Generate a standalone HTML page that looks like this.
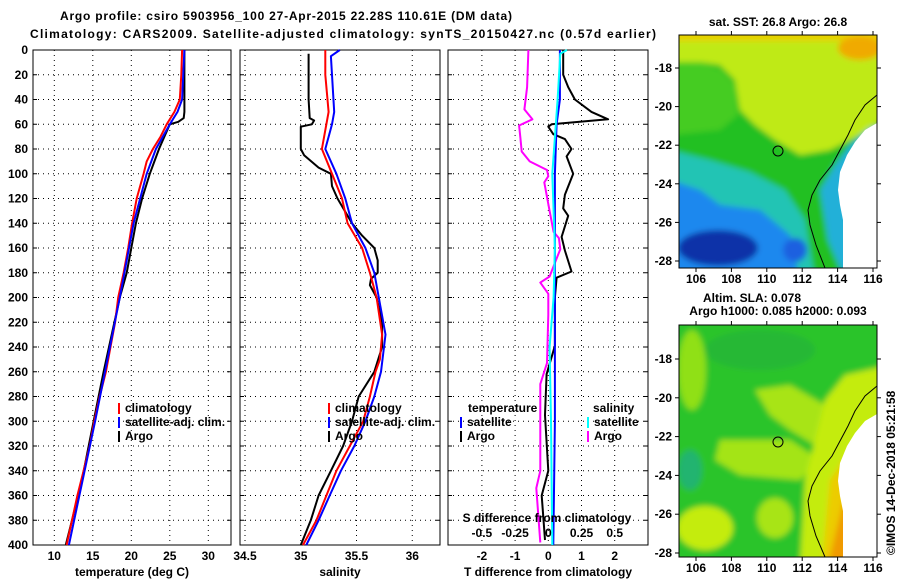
<!DOCTYPE html>
<html><head><meta charset="utf-8"><style>
body{margin:0;background:#fff}
svg{display:block}
text{font-family:"Liberation Sans",sans-serif;font-weight:bold;font-size:12px;fill:#000}
</style></head><body>
<svg id="c" width="900" height="580" xmlns="http://www.w3.org/2000/svg">
<defs>
<filter id="bl" x="-10%" y="-10%" width="120%" height="120%"><feGaussianBlur stdDeviation="3"/></filter>
<clipPath id="cm1"><rect x="679" y="35" width="198" height="233"/></clipPath>
<clipPath id="cm2"><rect x="679" y="325" width="198" height="232"/></clipPath>
</defs>
<text x="286" y="20" text-anchor="middle" font-size="13" textLength="452">Argo profile: csiro 5903956_100 27-Apr-2015 22.28S 110.61E (DM data)</text>
<text x="343" y="38" text-anchor="middle" font-size="13" textLength="626">Climatology: CARS2009. Satellite-adjusted climatology: synTS_20150427.nc (0.57d earlier)</text>

<g>
<text x="778" y="26" text-anchor="middle">sat. SST: 26.8 Argo: 26.8</text>
<g clip-path="url(#cm1)"><g filter="url(#bl)">
<rect x="670" y="25" width="220" height="255" fill="#22c024"/>
<polygon points="670,25 890,25 890,115 860,135 830,150 800,155 775,140 755,125 740,110 735,80 720,65 700,62 670,62" fill="#bfea12"/>
<polygon points="670,62 700,62 722,70 735,85 738,115 720,130 670,135" fill="#44cc20"/>
<rect x="670" y="25" width="220" height="16" fill="#e8d000"/>
<ellipse cx="860" cy="48" rx="22" ry="12" fill="#f0aa00"/>
<polygon points="670,150 710,160 750,172 785,190 805,220 815,280 670,280" fill="#22c4b4"/>
<polygon points="670,180 700,190 720,205 760,210 790,235 800,280 670,280" fill="#1a88ee"/>
<ellipse cx="718" cy="248" rx="40" ry="18" fill="#0c30a8"/>
<ellipse cx="795" cy="250" rx="12" ry="12" fill="#1a60e0"/>
<polygon points="820,190 835,165 850,145 870,128 890,125 890,280 845,280 828,240" fill="#20b0d8"/>
</g>
<polygon points="877,123 865,130 855,142 847,155 840,172 838,190 840,205 843,220 843,268 877,268" fill="#fff"/>
<polyline points="877,95 865,105 855,120 848,135 840,150 832,165 820,180 812,195 808,210 810,225 816,245 825,268" fill="none" stroke="#000" stroke-width="1"/>
<circle cx="778" cy="151" r="5" fill="none" stroke="#000"/>
</g>
<rect x="679" y="35" width="198" height="233" fill="none" stroke="#000"/>
</g>

<g>
<text x="752" y="302" text-anchor="middle">Altim. SLA: 0.078</text>
<text x="778" y="315" text-anchor="middle">Argo h1000: 0.085 h2000: 0.093</text>
<g clip-path="url(#cm2)"><g filter="url(#bl)">
<rect x="670" y="315" width="220" height="250" fill="#2cc42a"/>
<ellipse cx="692" cy="370" rx="14" ry="40" fill="#90e018"/>
<ellipse cx="760" cy="350" rx="55" ry="20" fill="#26b836"/>
<polygon points="755,390 790,385 825,405 835,430 815,445 790,430 770,415" fill="#a8e414"/>
<polygon points="720,440 790,440 820,460 800,480 740,475 715,460" fill="#a4e414"/>
<ellipse cx="690" cy="470" rx="12" ry="20" fill="#20b470"/>
<ellipse cx="705" cy="528" rx="28" ry="22" fill="#c4ec10"/>
<ellipse cx="775" cy="518" rx="18" ry="20" fill="#a8e414"/>
<polygon points="890,365 845,375 825,400 815,440 805,480 800,565 890,565" fill="#c4ec10"/>
<polygon points="890,430 850,450 830,480 822,565 890,565" fill="#eccc00"/>
<polygon points="845,495 828,565 872,565" fill="#f09a00"/>
</g>
<polygon points="877,414 865,421 855,433 847,446 840,463 838,481 840,496 843,511 843,557 877,557" fill="#fff"/>
<polyline points="877,386 865,396 855,411 848,426 840,441 832,456 820,471 812,486 808,501 810,516 816,536 825,557" fill="none" stroke="#000"/>
<circle cx="778" cy="442" r="5" fill="none" stroke="#000"/>
</g>
<rect x="679" y="325" width="198" height="232" fill="none" stroke="#000"/>
</g>
<text transform="translate(895,555) rotate(-90)" font-weight="normal">©IMOS 14-Dec-2018 05:21:58</text>
<g id="dyn"></g>
</svg>
<script>
// ---- data ----
const depthTicks=[0,20,40,60,80,100,120,140,160,180,200,220,240,260,280,300,320,340,360,380,400];
const tempTicks=[10,15,20,25,30];
const salTicks=[34.5,35,35.5,36];
const tdiffTicks=[-2,-1,0,1,2];
const sdiffTicks=[-0.5,-0.25,0,0.25,0.5];
const sdiffTickLabels=["-0.5","-0.25","0","0.25","0.5"];
const climTDepth=[0,20,40,50,60,70,80,90,100,120,140,160,180,200,220,240,260,280,300,320,340,360,380,400];
const climT=[26.6,26.5,26.3,25.6,24.6,23.8,22.8,22.0,21.6,20.7,20.1,19.6,19.0,18.3,17.9,17.3,16.7,15.9,15.2,14.6,13.8,13.0,12.3,11.6];
const satTDepth=[0,40,50,60,80,100,140,200,300,400];
const satT=[26.9,26.6,26.0,25.0,23.2,22.0,20.3,18.5,15.3,11.9];
const argoTDepth=[0,50,55,58,60,70,80,90,100,120,140,160,180,200,260,300,350,400];
const argoT=[26.9,26.9,26.8,26.1,25.0,24.3,23.6,23.0,22.4,21.4,20.6,20.0,19.4,18.5,16.4,15.1,13.5,11.5];
const climSDepth=[0,20,50,80,100,120,140,160,180,200,230,250,260,280,300,320,340,360,380,400];
const climS=[35.22,35.22,35.25,35.19,35.28,35.37,35.42,35.55,35.62,35.68,35.73,35.71,35.67,35.62,35.56,35.44,35.32,35.23,35.14,35.02];
const satSDepth=[0,5,20,50,60,80,100,120,140,160,180,200,230,260,280,300,320,340,360,380,400];
const satS=[35.35,35.27,35.28,35.3,35.28,35.22,35.32,35.40,35.46,35.58,35.66,35.7,35.76,35.72,35.66,35.58,35.48,35.36,35.26,35.16,35.05];
const argoSDepth=[3,20,40,55,57,60,62,70,80,85,95,100,110,120,140,150,160,170,180,185,190,200,220,240,260,280,300,320,340,360,380,400];
const argoS=[35.07,35.07,35.07,35.08,35.12,35.1,35.0,35.0,35.0,35.03,35.16,35.27,35.28,35.33,35.46,35.55,35.66,35.69,35.69,35.63,35.62,35.68,35.73,35.73,35.66,35.52,35.46,35.38,35.27,35.16,35.09,35.0];
const satTdDepth=[0,40,60,100,200,300,400];
const satTd=[0.35,0.35,0.25,0.2,0.2,0.2,0.15];
const argoTdDepth=[0,20,30,40,50,56,60,62,68,72,80,86,100,117,128,134,151,162,179,184,200,239,262,295,340,360,396];
const argoTd=[0.45,0.45,0.6,0.8,1.3,1.8,0.1,0.0,0.15,0.5,0.7,0.55,0.75,0.5,0.45,0.6,0.4,0.5,0.7,0.25,0.2,0.2,-0.05,-0.1,0.0,-0.2,-0.1];
const satSdDepth=[0,3,40,100,160,200,240,300,400];
const satSd=[0.14,0.09,0.07,0.03,0.05,0.04,0.01,0.02,0.03];
const argoSdDepth=[0,30,48,56,61,71,82,90,97,102,107,130,147,152,161,172,183,188,197,214,253,270,340,354,398];
const argoSd=[-0.15,-0.16,-0.18,-0.12,-0.22,-0.21,-0.2,-0.14,-0.01,0,-0.03,0.01,0.04,0.08,0.09,0.05,0.01,-0.06,0,0,-0.01,-0.06,-0.06,-0.09,-0.06];
const lonTicks=[106,108,110,112,114,116];
const latTicks=[-18,-20,-22,-24,-26,-28];

// ---- scales ----
const Y0=50,Y1=545;
const yD=d=>Y0+d*(Y1-Y0)/400;
const xT=t=>54.3+(t-10)*7.7;
const xS=s=>245+(s-34.5)*111.5;
const xTd=t=>548.3+t*33.2;
const xSd=s=>548.3+s*4*33.2;
const xLon=l=>696+(l-106)*17.7;
const yLat1=l=>68+(-18-l)*19.3;
const yLat2=l=>359+(-18-l)*19.4;

const NS='http://www.w3.org/2000/svg';
const g=document.getElementById('dyn');
function mk(tag,attrs,parent){const e=document.createElementNS(NS,tag);for(const k in attrs)e.setAttribute(k,attrs[k]);(parent||g).appendChild(e);return e;}
function txt(x,y,s,anchor,parent){const e=mk('text',{x:x,y:y,'text-anchor':anchor||'middle'},parent);e.textContent=s;return e;}

const panels=[
 {name:'temperature-panel',x0:33,x1:231,ticks:tempTicks,labels:tempTicks.map(String),fx:xT,title:'temperature (deg C)'},
 {name:'salinity-panel',x0:240,x1:440,ticks:salTicks,labels:salTicks.map(String),fx:xS,title:'salinity'},
 {name:'difference-panel',x0:448,x1:648,ticks:tdiffTicks,labels:tdiffTicks.map(String),fx:xTd,title:'T difference from climatology'}
];
panels.forEach((p,pi)=>{
 const pg=mk('g',{});
 
 
 depthTicks.forEach(d=>{
  if(d>0&&d<400){const l=mk('line',{x1:p.x0,x2:p.x1,y1:yD(d),y2:yD(d),stroke:'#000','stroke-dasharray':'1,4'},pg);
  
  }
  mk('line',{x1:p.x0,x2:p.x0+4,y1:yD(d),y2:yD(d),stroke:'#000'},pg);
  mk('line',{x1:p.x1-4,x2:p.x1,y1:yD(d),y2:yD(d),stroke:'#000'},pg);
 });
 p.ticks.forEach((t,i)=>{
  const x=p.fx(t);
  if(x>p.x0+1&&x<p.x1-1){const l=mk('line',{x1:x,x2:x,y1:Y0,y2:Y1,stroke:'#000','stroke-dasharray':'1,4'},pg);
  
  }
  const tl=txt(x,Y1+15,p.labels[i],'middle',pg);
  
  
 });
 const fr=mk('rect',{x:p.x0,y:Y0,width:p.x1-p.x0,height:Y1-Y0,fill:'none',stroke:'#000'},pg);
 
 
 const at=txt((p.x0+p.x1)/2,576,p.title,'middle',pg);
 
 
});
depthTicks.forEach(d=>{const t=txt(28,yD(d)+4,String(d),'end');
 
 });

function line(ds,vs,fx,col,name,w){
 const pts=ds.map((d,i)=>fx(vs[i]).toFixed(1)+','+yD(d).toFixed(1)).join(' ');
 const e=mk('polyline',{points:pts,fill:'none',stroke:col,'stroke-width':w||2,'stroke-linejoin':'round'});
 
 
}
line(argoTDepth,argoT,xT,'#000','argo-temperature-line');
line(climTDepth,climT,xT,'#f00','climatology-temperature-line');
line(satTDepth,satT,xT,'#00f','satellite-temperature-line');
line(argoSDepth,argoS,xS,'#000','argo-salinity-line');
line(climSDepth,climS,xS,'#f00','climatology-salinity-line');
line(satSDepth,satS,xS,'#00f','satellite-salinity-line');
line(argoTdDepth,argoTd,xTd,'#000','argo-t-diff-line');
line(argoSdDepth,argoSd,xSd,'#f0f','argo-s-diff-line');
line(satTdDepth,satTd,xTd,'#00f','satellite-t-diff-line');
line(satSdDepth,satSd,xSd,'#0ff','satellite-s-diff-line');

// S diff axis labels
const sdt=txt(547,522,'S difference from climatology');


sdiffTicks.forEach((s,i)=>{const t=txt(xSd(s),537,sdiffTickLabels[i]);
 
 });

// legends
function leg(x,y,col,label){
 const lg=mk('g',{});
 
 
 mk('rect',{x:x,y:y-9,width:2,height:11,fill:col},lg);
 txt(x+7,y,label,'start',lg);
}
leg(118,412,'#f00','climatology');leg(118,426,'#00f','satellite-adj. clim.');leg(118,440,'#000','Argo');
leg(328,412,'#f00','climatology');leg(328,426,'#00f','satellite-adj. clim.');leg(328,440,'#000','Argo');
const lt1=txt(468,412,'temperature','start');


leg(460,426,'#00f','satellite');leg(460,440,'#000','Argo');
const lt2=txt(593,412,'salinity','start');


leg(587,426,'#0ff','satellite');leg(587,440,'#f0f','Argo');

// map axes
[[35,268,yLat1],[325,557,yLat2]].forEach(m=>{
 lonTicks.forEach(l=>{const x=xLon(l);
  mk('line',{x1:x,x2:x,y1:m[0]-4,y2:m[0],stroke:'#000'});
  mk('line',{x1:x,x2:x,y1:m[1],y2:m[1]+4,stroke:'#000'});
  const t=txt(x,m[1]+15,String(l));
  
  });
 latTicks.forEach(l=>{const y=m[2](l);
  mk('line',{x1:675,x2:679,y1:y,y2:y,stroke:'#000'});
  mk('line',{x1:877,x2:881,y1:y,y2:y,stroke:'#000'});
  const t=txt(672,y+4,String(l),'end');
  
  });
});
</script>
</body></html>
